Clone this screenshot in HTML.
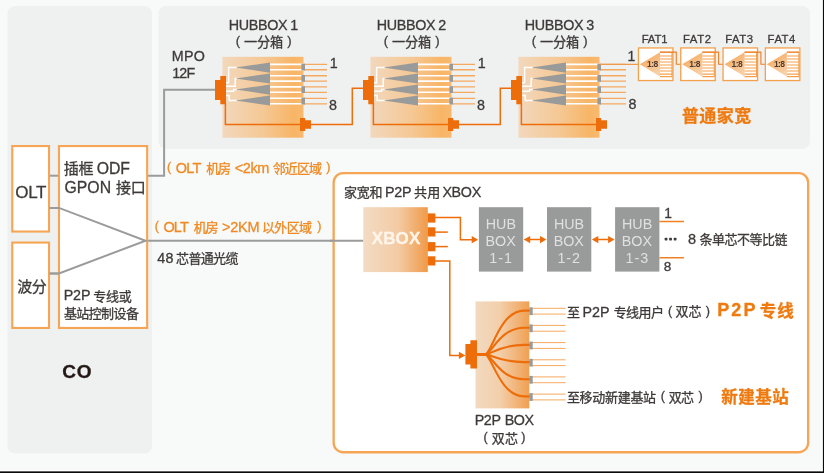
<!DOCTYPE html>
<html lang="zh">
<head>
<meta charset="utf-8">
<title>ODN network diagram</title>
<style>
html,body{margin:0;padding:0;background:#f8f9f9;}
body{width:824px;height:473px;overflow:hidden;font-family:"Liberation Sans",sans-serif;}
svg{display:block;will-change:transform;}
svg text{font-family:"Liberation Sans","Noto Sans CJK SC",sans-serif;}
</style>
</head>
<body>
<svg width="824" height="473" viewBox="0 0 824 473" font-family="'Liberation Sans', 'Noto Sans CJK SC', sans-serif">
<rect width="824" height="473" fill="#f8f9f9"/>
<rect x="7.5" y="6" width="144.5" height="447.5" rx="7.5" fill="#eff1f1"/>
<rect x="158.5" y="6" width="651.5" height="143" rx="7.5" fill="#eff1f1"/>
<g fill="none" stroke="#9b9b9b" stroke-width="2" stroke-linejoin="miter">
<path d="M49.5 175.7H58.5"/>
<path d="M148 175.7H164.1V89.8H215.5"/>
<path d="M49.5 207.9H59L145.6 240.7L59 273.4H49.5"/>
<path d="M145.6 240.7H363"/>
</g>
<rect x="12.25" y="146.05" width="36.80" height="85.50" rx="0" fill="#fff" stroke="#f5a554" stroke-width="2.1"/>
<rect x="12.25" y="242.55" width="36.80" height="85.40" rx="0" fill="#fff" stroke="#f5a554" stroke-width="2.1"/>
<rect x="58.95" y="146.05" width="88.20" height="181.90" rx="0" fill="#fff" stroke="#f5a554" stroke-width="2.1"/>
<g fill="none" stroke="#9b9b9b" stroke-width="2">
<path d="M49.5 207.9H59L145.6 240.7L59 273.4H49.5"/>
</g>
<rect x="333.65" y="173.05" width="474.50" height="279.20" rx="9.5" fill="#fff" stroke="#f5a554" stroke-width="2.3"/>
<path d="M330 240.7H363.4" stroke="#9b9b9b" stroke-width="2"/>
<defs>
<linearGradient id="gh" x1="0" x2="1" y1="0" y2="0">
<stop offset="0" stop-color="#f2d8bd"/><stop offset="0.5" stop-color="#f5c895"/><stop offset="0.88" stop-color="#f8b566"/><stop offset="1" stop-color="#f8b96e"/>
</linearGradient>
<linearGradient id="gx" x1="0" x2="1" y1="0" y2="0">
<stop offset="0" stop-color="#f3dcc5"/><stop offset="0.55" stop-color="#f3caa3"/><stop offset="1" stop-color="#f09a49"/>
</linearGradient>
<linearGradient id="gp" x1="0" x2="1" y1="0" y2="0">
<stop offset="0" stop-color="#f2d9c0"/><stop offset="0.45" stop-color="#f3cfab"/><stop offset="1" stop-color="#f0a052"/>
</linearGradient>
<linearGradient id="gt" x1="0" x2="0.6" y1="0" y2="1">
<stop offset="0" stop-color="#f5a350"/><stop offset="1" stop-color="#f8cfa6"/>
</linearGradient>
</defs>
<g transform="translate(0 0)">
<rect x="222.4" y="56.8" width="81.1" height="80.9" fill="url(#gh)"/>
<path d="M270 64.4H303.5M270 69.7H303.5M270 75.7H303.5M270 81.1H303.5M270 86.9H303.5M270 92.3H303.5M270 98.3H303.5M270 103.8H303.5" stroke="#fff" stroke-width="1.6" fill="none"/>
<path d="M226 82.7H228.6V67.6H237 M226 86.2H235.2V78.5H237 M226 91.3H233.6V89.6H237 M226 95.6H229.2V100.5H237" stroke="#fff" stroke-width="1.5" fill="none"/>
<path d="M235.7 67.60L270 62.50V72.70Z" fill="#999a9a"/>
<path d="M235.7 78.50L270 73.40V83.60Z" fill="#999a9a"/>
<path d="M235.7 89.60L270 84.50V94.70Z" fill="#999a9a"/>
<path d="M235.7 100.50L270 95.40V105.60Z" fill="#999a9a"/>
<path d="M304 64.4H327.0M304 69.7H327.0M304 75.7H327.0M304 81.1H327.0M304 86.9H327.0M304 92.3H327.0M304 98.3H327.0M304 103.8H327.0" stroke="#f5a95f" stroke-width="1.35" fill="none"/>
<rect x="301.4" y="63.70" width="3.6" height="6.70" fill="#999a9a"/>
<rect x="301.4" y="75.00" width="3.6" height="6.80" fill="#999a9a"/>
<rect x="301.4" y="86.20" width="3.6" height="6.80" fill="#999a9a"/>
<rect x="301.4" y="97.60" width="3.6" height="6.90" fill="#999a9a"/>
<path d="M225.4 103V124.5H301" stroke="#ed6d0a" stroke-width="1.5" fill="none"/>
<path d="M310 124.5H352.3V88.3H364" stroke="#ed6d0a" stroke-width="1.5" fill="none"/>
<path d="M215 80H220.3V76.1H226V104.3H220.3V100H215Z" fill="#ed6d0a"/>
<path d="M300 118H305.2V120.2H311V128.8H305.2V131H300Z" fill="#ed6d0a"/>
</g>
<g transform="translate(148 0)">
<rect x="222.4" y="56.8" width="81.1" height="80.9" fill="url(#gh)"/>
<path d="M270 64.4H303.5M270 69.7H303.5M270 75.7H303.5M270 81.1H303.5M270 86.9H303.5M270 92.3H303.5M270 98.3H303.5M270 103.8H303.5" stroke="#fff" stroke-width="1.6" fill="none"/>
<path d="M226 82.7H228.6V67.6H237 M226 86.2H235.2V78.5H237 M226 91.3H233.6V89.6H237 M226 95.6H229.2V100.5H237" stroke="#fff" stroke-width="1.5" fill="none"/>
<path d="M235.7 67.60L270 62.50V72.70Z" fill="#999a9a"/>
<path d="M235.7 78.50L270 73.40V83.60Z" fill="#999a9a"/>
<path d="M235.7 89.60L270 84.50V94.70Z" fill="#999a9a"/>
<path d="M235.7 100.50L270 95.40V105.60Z" fill="#999a9a"/>
<path d="M304 64.4H327.0M304 69.7H327.0M304 75.7H327.0M304 81.1H327.0M304 86.9H327.0M304 92.3H327.0M304 98.3H327.0M304 103.8H327.0" stroke="#f5a95f" stroke-width="1.35" fill="none"/>
<rect x="301.4" y="63.70" width="3.6" height="6.70" fill="#999a9a"/>
<rect x="301.4" y="75.00" width="3.6" height="6.80" fill="#999a9a"/>
<rect x="301.4" y="86.20" width="3.6" height="6.80" fill="#999a9a"/>
<rect x="301.4" y="97.60" width="3.6" height="6.90" fill="#999a9a"/>
<path d="M225.4 103V124.5H301" stroke="#ed6d0a" stroke-width="1.5" fill="none"/>
<path d="M310 124.5H352.3V88.3H364" stroke="#ed6d0a" stroke-width="1.5" fill="none"/>
<path d="M215 80H220.3V76.1H226V104.3H220.3V100H215Z" fill="#ed6d0a"/>
<path d="M300 118H305.2V120.2H311V128.8H305.2V131H300Z" fill="#ed6d0a"/>
</g>
<g transform="translate(296 0)">
<rect x="222.4" y="56.8" width="81.1" height="80.9" fill="url(#gh)"/>
<path d="M270 64.4H303.5M270 69.7H303.5M270 75.7H303.5M270 81.1H303.5M270 86.9H303.5M270 92.3H303.5M270 98.3H303.5M270 103.8H303.5" stroke="#fff" stroke-width="1.6" fill="none"/>
<path d="M226 82.7H228.6V67.6H237 M226 86.2H235.2V78.5H237 M226 91.3H233.6V89.6H237 M226 95.6H229.2V100.5H237" stroke="#fff" stroke-width="1.5" fill="none"/>
<path d="M235.7 67.60L270 62.50V72.70Z" fill="#999a9a"/>
<path d="M235.7 78.50L270 73.40V83.60Z" fill="#999a9a"/>
<path d="M235.7 89.60L270 84.50V94.70Z" fill="#999a9a"/>
<path d="M235.7 100.50L270 95.40V105.60Z" fill="#999a9a"/>
<path d="M304 64.4H330.0M304 69.7H330.0M304 75.7H330.0M304 81.1H330.0M304 86.9H330.0M304 92.3H330.0M304 98.3H330.0M304 103.8H330.0" stroke="#f5a95f" stroke-width="1.35" fill="none"/>
<rect x="301.4" y="63.70" width="3.6" height="6.70" fill="#999a9a"/>
<rect x="301.4" y="75.00" width="3.6" height="6.80" fill="#999a9a"/>
<rect x="301.4" y="86.20" width="3.6" height="6.80" fill="#999a9a"/>
<rect x="301.4" y="97.60" width="3.6" height="6.90" fill="#999a9a"/>
<path d="M225.4 103V124.5H301" stroke="#ed6d0a" stroke-width="1.5" fill="none"/>
<path d="M215 80H220.3V76.1H226V104.3H220.3V100H215Z" fill="#ed6d0a"/>
<path d="M300 118H305.2V120.2H311V128.8H305.2V131H300Z" fill="#ed6d0a"/>
</g>
<path d="M600 64.4H638.5" stroke="#f29a4c" stroke-width="1.2" fill="none"/>
<g transform="translate(0.0 0)">
<rect x="638.45" y="47.95" width="34.5" height="32.6" fill="#fff" stroke="#f5a04b" stroke-width="1.3"/>
<path d="M639.8 64.2L660 52.2V76.4Z" fill="url(#gt)"/>
<path d="M660 52.3H672M660 56H672M660 59H672M660 62H672M660 65H672M660 68H672M660 71H672M660 74.1H672M660 76.6H672 M672 52V77" stroke="#f5a04b" stroke-width="1.1" fill="none"/>
<path d="M660 52.1H676.3V64.3H681" stroke="#ee7d22" stroke-width="1.1" fill="none"/>
<text x="647" y="67.1" font-size="8.5" letter-spacing="-0.55" fill="#4a3a30" font-weight="700">1:8</text>
</g>
<g transform="translate(42.3 0)">
<rect x="638.45" y="47.95" width="34.5" height="32.6" fill="#fff" stroke="#f5a04b" stroke-width="1.3"/>
<path d="M639.8 64.2L660 52.2V76.4Z" fill="url(#gt)"/>
<path d="M660 52.3H672M660 56H672M660 59H672M660 62H672M660 65H672M660 68H672M660 71H672M660 74.1H672M660 76.6H672 M672 52V77" stroke="#f5a04b" stroke-width="1.1" fill="none"/>
<path d="M660 52.1H676.3V64.3H681" stroke="#ee7d22" stroke-width="1.1" fill="none"/>
<text x="647" y="67.1" font-size="8.5" letter-spacing="-0.55" fill="#4a3a30" font-weight="700">1:8</text>
</g>
<g transform="translate(84.6 0)">
<rect x="638.45" y="47.95" width="34.5" height="32.6" fill="#fff" stroke="#f5a04b" stroke-width="1.3"/>
<path d="M639.8 64.2L660 52.2V76.4Z" fill="url(#gt)"/>
<path d="M660 52.3H672M660 56H672M660 59H672M660 62H672M660 65H672M660 68H672M660 71H672M660 74.1H672M660 76.6H672 M672 52V77" stroke="#f5a04b" stroke-width="1.1" fill="none"/>
<path d="M660 52.1H676.3V64.3H681" stroke="#ee7d22" stroke-width="1.1" fill="none"/>
<text x="647" y="67.1" font-size="8.5" letter-spacing="-0.55" fill="#4a3a30" font-weight="700">1:8</text>
</g>
<g transform="translate(126.89999999999999 0)">
<rect x="638.45" y="47.95" width="34.5" height="32.6" fill="#fff" stroke="#f5a04b" stroke-width="1.3"/>
<path d="M639.8 64.2L660 52.2V76.4Z" fill="url(#gt)"/>
<path d="M660 52.3H672M660 56H672M660 59H672M660 62H672M660 65H672M660 68H672M660 71H672M660 74.1H672M660 76.6H672 M672 52V77" stroke="#f5a04b" stroke-width="1.1" fill="none"/>
<path d="M660 52.1H672" stroke="#ee7d22" stroke-width="1.1" fill="none"/>
<text x="647" y="67.1" font-size="8.5" letter-spacing="-0.55" fill="#4a3a30" font-weight="700">1:8</text>
</g>
<rect x="363.3" y="207.2" width="64.5" height="64.9" fill="url(#gx)"/>
<rect x="427.7" y="213.4" width="7.7" height="9.2" fill="#ed6d0a"/>
<rect x="427.7" y="227.3" width="7.7" height="9.2" fill="#ed6d0a"/>
<rect x="427.7" y="242.1" width="7.7" height="9.2" fill="#ed6d0a"/>
<rect x="427.7" y="256.3" width="7.7" height="9.2" fill="#ed6d0a"/>
<g fill="none" stroke="#ed6d0a" stroke-width="1.5">
<path d="M435 217.6H460.4V239.8H473"/>
<path d="M435 232.1H447.8"/>
<path d="M435 246.6H447.8"/>
<path d="M435 261.1H449.8V355.4H460"/>
<path d="M527 239.6H543 M595 239.6H611"/>
</g>
<path d="M478.20 239.70l-6.50 -3.60v7.20z" fill="#ed6d0a"/>
<path d="M465.40 355.40l-6.50 -3.60v7.20z" fill="#ed6d0a"/>
<path d="M523.70 239.60l6.50 -3.60v7.20z" fill="#ed6d0a"/>
<path d="M546.50 239.60l-6.50 -3.60v7.20z" fill="#ed6d0a"/>
<path d="M591.80 239.60l6.50 -3.60v7.20z" fill="#ed6d0a"/>
<path d="M614.60 239.60l-6.50 -3.60v7.20z" fill="#ed6d0a"/>
<rect x="478.90" y="207.2" width="44.3" height="64.4" fill="#999a9a"/>
<rect x="547.00" y="207.2" width="44.3" height="64.4" fill="#999a9a"/>
<rect x="615.10" y="207.2" width="44.3" height="64.4" fill="#999a9a"/>
<path d="M659.4 221.6H683.9 M659.4 257.8H683.9" stroke="#ef8125" stroke-width="1.5" fill="none"/>
<g fill="#3e3a39"><rect x="664.65" y="237.7" width="2.8" height="2.8" rx="0.7"/><rect x="669.15" y="237.7" width="2.8" height="2.8" rx="0.7"/><rect x="673.7" y="237.7" width="2.8" height="2.8" rx="0.7"/></g>
<rect x="475.5" y="301.4" width="53.8" height="107" fill="url(#gp)"/>
<g fill="none" stroke="#ed6d0a" stroke-width="2.1">
<path d="M476 354.4H485.5C492 352.2 500 311.0 524 310.6H530"/>
<path d="M476 354.4H485.5C492 353.1 500 328.0 524 327.7H530"/>
<path d="M476 354.4H485.5C492 353.9 500 345.0 524 344.9H530"/>
<path d="M476 354.4H485.5C492 354.8 500 362.0 524 362.1H530"/>
<path d="M476 354.4H485.5C492 355.6 500 379.0 524 379.2H530"/>
<path d="M476 354.4H485.5C492 356.5 500 396.0 524 396.4H530"/>
</g>
<path d="M532 308.3H565.6M532 314.1H565.6" stroke="#f5a95f" stroke-width="1" fill="none"/>
<rect x="529.3" y="307.3" width="3.4" height="7.8" fill="#999a9a"/>
<path d="M532 325.4H565.6M532 331.2H565.6" stroke="#f5a95f" stroke-width="1" fill="none"/>
<rect x="529.3" y="324.4" width="3.4" height="7.8" fill="#999a9a"/>
<path d="M532 342.6H565.6M532 348.4H565.6" stroke="#f5a95f" stroke-width="1" fill="none"/>
<rect x="529.3" y="341.6" width="3.4" height="7.8" fill="#999a9a"/>
<path d="M532 359.8H565.6M532 365.6H565.6" stroke="#f5a95f" stroke-width="1" fill="none"/>
<rect x="529.3" y="358.8" width="3.4" height="7.8" fill="#999a9a"/>
<path d="M532 376.9H565.6M532 382.7H565.6" stroke="#f5a95f" stroke-width="1" fill="none"/>
<rect x="529.3" y="375.9" width="3.4" height="7.8" fill="#999a9a"/>
<path d="M532 394.1H565.6M532 399.9H565.6" stroke="#f5a95f" stroke-width="1" fill="none"/>
<rect x="529.3" y="393.1" width="3.4" height="7.8" fill="#999a9a"/>
<path d="M465.4 344H470.4V340.2H477V368.6H470.4V364.4H465.4Z" fill="#ed6d0a"/>
<g fill="#3e3a39" stroke="#3e3a39" stroke-width="0.3" stroke-linejoin="round" aria-label="OLT">
<text x="15.19" y="197.70" font-size="17.00" letter-spacing="-0.283" xml:space="preserve">OLT</text>
</g>
<g fill="#3e3a39" stroke="#3e3a39" stroke-width="0.3" stroke-linejoin="round" aria-label="插框 ODF">
<text x="63.85" y="173.70" font-size="15.00" letter-spacing="-0.28" xml:space="preserve">插框</text>
<text x="96.85" y="173.90" font-size="15.80" letter-spacing="-0.135" xml:space="preserve">ODF</text>
</g>
<g fill="#3e3a39" stroke="#3e3a39" stroke-width="0.3" stroke-linejoin="round" aria-label="GPON 接口">
<text x="64.41" y="193.40" font-size="15.80" letter-spacing="0.052" xml:space="preserve">GPON</text>
<text x="115.88" y="193.30" font-size="15.00" letter-spacing="-0.02" xml:space="preserve">接口</text>
</g>
<g fill="#3e3a39" stroke="#3e3a39" stroke-width="0.3" stroke-linejoin="round" aria-label="波分">
<text x="17.33" y="291.90" font-size="15.00" letter-spacing="-0.64" xml:space="preserve">波分</text>
</g>
<g fill="#3e3a39" stroke="#3e3a39" stroke-width="0.3" stroke-linejoin="round" aria-label="P2P 专线或">
<text x="63.63" y="300.20" font-size="14.30" letter-spacing="-0.101" xml:space="preserve">P2P</text>
<text x="93.17" y="300.50" font-size="13.00" letter-spacing="-0.24" xml:space="preserve">专线或</text>
</g>
<g fill="#3e3a39" stroke="#3e3a39" stroke-width="0.3" stroke-linejoin="round" aria-label="基站控制设备">
<text x="63.93" y="317.50" font-size="13.00" letter-spacing="-0.60" xml:space="preserve">基站控制设备</text>
</g>
<g fill="#231815" stroke="#231815" stroke-width="0.3" stroke-linejoin="round" aria-label="CO">
<text x="62.32" y="378.40" font-size="19.00" font-weight="700" letter-spacing="0.777" xml:space="preserve">CO</text>
</g>
<g fill="#3e3a39" stroke="#3e3a39" stroke-width="0.3" stroke-linejoin="round" aria-label="MPO">
<text x="171.83" y="61.10" font-size="14.30" letter-spacing="0.292" xml:space="preserve">MPO</text>
</g>
<g fill="#3e3a39" stroke="#3e3a39" stroke-width="0.3" stroke-linejoin="round" aria-label="12F">
<text x="172.21" y="78.10" font-size="14.30" letter-spacing="-0.840" xml:space="preserve">12F</text>
</g>
<g fill="#3e3a39" stroke="#3e3a39" stroke-width="0.3" stroke-linejoin="round" aria-label="HUBBOX 1">
<text x="228.73" y="29.50" font-size="14.30" letter-spacing="-0.324" xml:space="preserve">HUBBOX</text>
<text x="290.21" y="29.50" font-size="14.30" xml:space="preserve">1</text>
</g>
<g fill="#3e3a39" stroke="#3e3a39" stroke-width="0.3" stroke-linejoin="round" aria-label="( 一分箱 )">
<text x="235.79" y="45.30" font-size="13.00" xml:space="preserve">(</text>
<text x="244.12" y="46.60" font-size="13.20" letter-spacing="-0.21" xml:space="preserve">一分箱</text>
<text x="287.18" y="45.30" font-size="13.00" xml:space="preserve">)</text>
</g>
<g fill="#3e3a39" stroke="#3e3a39" stroke-width="0.3" stroke-linejoin="round" aria-label="1">
<text x="329.81" y="68.00" font-size="14.30" xml:space="preserve">1</text>
</g>
<g fill="#3e3a39" stroke="#3e3a39" stroke-width="0.3" stroke-linejoin="round" aria-label="8">
<text x="329.08" y="109.50" font-size="14.30" xml:space="preserve">8</text>
</g>
<g fill="#3e3a39" stroke="#3e3a39" stroke-width="0.3" stroke-linejoin="round" aria-label="HUBBOX 2">
<text x="376.73" y="29.50" font-size="14.30" letter-spacing="-0.324" xml:space="preserve">HUBBOX</text>
<text x="438.21" y="29.50" font-size="14.30" xml:space="preserve">2</text>
</g>
<g fill="#3e3a39" stroke="#3e3a39" stroke-width="0.3" stroke-linejoin="round" aria-label="( 一分箱 )">
<text x="383.79" y="45.30" font-size="13.00" xml:space="preserve">(</text>
<text x="392.12" y="46.60" font-size="13.20" letter-spacing="-0.21" xml:space="preserve">一分箱</text>
<text x="435.18" y="45.30" font-size="13.00" xml:space="preserve">)</text>
</g>
<g fill="#3e3a39" stroke="#3e3a39" stroke-width="0.3" stroke-linejoin="round" aria-label="1">
<text x="477.81" y="68.00" font-size="14.30" xml:space="preserve">1</text>
</g>
<g fill="#3e3a39" stroke="#3e3a39" stroke-width="0.3" stroke-linejoin="round" aria-label="8">
<text x="477.08" y="109.50" font-size="14.30" xml:space="preserve">8</text>
</g>
<g fill="#3e3a39" stroke="#3e3a39" stroke-width="0.3" stroke-linejoin="round" aria-label="HUBBOX 3">
<text x="524.73" y="29.50" font-size="14.30" letter-spacing="-0.324" xml:space="preserve">HUBBOX</text>
<text x="586.21" y="29.50" font-size="14.30" xml:space="preserve">3</text>
</g>
<g fill="#3e3a39" stroke="#3e3a39" stroke-width="0.3" stroke-linejoin="round" aria-label="( 一分箱 )">
<text x="531.79" y="45.30" font-size="13.00" xml:space="preserve">(</text>
<text x="540.12" y="46.60" font-size="13.20" letter-spacing="-0.21" xml:space="preserve">一分箱</text>
<text x="583.18" y="45.30" font-size="13.00" xml:space="preserve">)</text>
</g>
<g fill="#3e3a39" stroke="#3e3a39" stroke-width="0.3" stroke-linejoin="round" aria-label="1">
<text x="627.43" y="60.90" font-size="14.00" xml:space="preserve">1</text>
</g>
<g fill="#3e3a39" stroke="#3e3a39" stroke-width="0.3" stroke-linejoin="round" aria-label="8">
<text x="628.38" y="109.30" font-size="14.30" xml:space="preserve">8</text>
</g>
<g fill="#3e3a39" stroke="#3e3a39" stroke-width="0.3" stroke-linejoin="round" aria-label="FAT1">
<text x="641.67" y="43.10" font-size="11.30" letter-spacing="-0.116" xml:space="preserve">FAT1</text>
</g>
<g fill="#3e3a39" stroke="#3e3a39" stroke-width="0.3" stroke-linejoin="round" aria-label="FAT2">
<text x="682.97" y="43.10" font-size="11.30" letter-spacing="0.623" xml:space="preserve">FAT2</text>
</g>
<g fill="#3e3a39" stroke="#3e3a39" stroke-width="0.3" stroke-linejoin="round" aria-label="FAT3">
<text x="725.27" y="43.10" font-size="11.30" letter-spacing="0.532" xml:space="preserve">FAT3</text>
</g>
<g fill="#3e3a39" stroke="#3e3a39" stroke-width="0.3" stroke-linejoin="round" aria-label="FAT4">
<text x="767.57" y="43.10" font-size="11.30" letter-spacing="0.544" xml:space="preserve">FAT4</text>
</g>
<g fill="#ee7a10" stroke="#ee7a10" stroke-width="0.3" stroke-linejoin="round" aria-label="普通家宽">
<text x="681.95" y="121.50" font-size="17.00" font-weight="700" letter-spacing="0.43" xml:space="preserve">普通家宽</text>
</g>
<g fill="#f08a22" stroke="#f08a22" stroke-width="0.3" stroke-linejoin="round" aria-label="( OLT 机房 &lt;2km 邻近区域 )">
<text x="167.12" y="171.00" font-size="12.50" xml:space="preserve">(</text>
<text x="175.71" y="173.00" font-size="14.50" letter-spacing="-0.790" xml:space="preserve">OLT</text>
<text x="206.34" y="173.10" font-size="13.00" letter-spacing="-1.39" xml:space="preserve">机房</text>
<text x="234.68" y="173.00" font-size="14.50" letter-spacing="-0.363" xml:space="preserve">&lt;2km</text>
<text x="272.75" y="173.10" font-size="13.00" letter-spacing="-0.91" xml:space="preserve">邻近区域</text>
<text x="326.21" y="171.00" font-size="12.50" xml:space="preserve">)</text>
</g>
<g fill="#f08a22" stroke="#f08a22" stroke-width="0.3" stroke-linejoin="round" aria-label="( OLT 机房 &gt;2KM 以外区域 )">
<text x="154.72" y="230.00" font-size="12.50" xml:space="preserve">(</text>
<text x="163.51" y="232.00" font-size="14.50" letter-spacing="-0.940" xml:space="preserve">OLT</text>
<text x="193.84" y="232.10" font-size="13.00" letter-spacing="-1.29" xml:space="preserve">机房</text>
<text x="221.88" y="232.00" font-size="14.50" letter-spacing="-0.159" xml:space="preserve">&gt;2KM</text>
<text x="261.90" y="232.10" font-size="13.00" letter-spacing="-0.63" xml:space="preserve">以外区域</text>
<text x="317.31" y="230.00" font-size="12.50" xml:space="preserve">)</text>
</g>
<g fill="#3e3a39" stroke="#3e3a39" stroke-width="0.3" stroke-linejoin="round" aria-label="48 芯普通光缆">
<text x="157.17" y="263.00" font-size="14.30" letter-spacing="0.344" xml:space="preserve">48</text>
<text x="176.02" y="263.20" font-size="13.00" letter-spacing="-0.64" xml:space="preserve">芯普通光缆</text>
</g>
<g fill="#3e3a39" stroke="#3e3a39" stroke-width="0.3" stroke-linejoin="round" aria-label="家宽和 P2P 共用 XBOX">
<text x="344.11" y="197.00" font-size="13.00" letter-spacing="-0.27" xml:space="preserve">家宽和</text>
<text x="385.03" y="197.10" font-size="14.30" letter-spacing="-0.251" xml:space="preserve">P2P</text>
<text x="413.88" y="197.00" font-size="13.00" letter-spacing="0.29" xml:space="preserve">共用</text>
<text x="442.38" y="197.10" font-size="14.30" letter-spacing="-0.305" xml:space="preserve">XBOX</text>
</g>
<g fill="#fff5ea" stroke="#fff5ea" stroke-width="0.3" stroke-linejoin="round" aria-label="XBOX">
<text x="371.85" y="244.30" font-size="17.00" font-weight="700" letter-spacing="0.074" xml:space="preserve">XBOX</text>
</g>
<g fill="#e0e0e0" aria-label="HUB BOX 1-1">
<text x="485.79" y="229.00" font-size="14.30" xml:space="preserve">HUB</text>
<text x="485.56" y="245.50" font-size="14.30" xml:space="preserve">BOX</text>
<text x="489.27" y="262.70" font-size="14.30" letter-spacing="1.000" xml:space="preserve">1-1</text>
</g>
<g fill="#e0e0e0" aria-label="HUB BOX 1-2">
<text x="553.89" y="229.00" font-size="14.30" xml:space="preserve">HUB</text>
<text x="553.66" y="245.50" font-size="14.30" xml:space="preserve">BOX</text>
<text x="557.38" y="262.70" font-size="14.30" letter-spacing="1.000" xml:space="preserve">1-2</text>
</g>
<g fill="#e0e0e0" aria-label="HUB BOX 1-3">
<text x="621.99" y="229.00" font-size="14.30" xml:space="preserve">HUB</text>
<text x="621.76" y="245.50" font-size="14.30" xml:space="preserve">BOX</text>
<text x="625.44" y="262.70" font-size="14.30" letter-spacing="1.000" xml:space="preserve">1-3</text>
</g>
<g fill="#3e3a39" stroke="#3e3a39" stroke-width="0.3" stroke-linejoin="round" aria-label="1">
<text x="664.15" y="217.80" font-size="13.80" xml:space="preserve">1</text>
</g>
<g fill="#3e3a39" stroke="#3e3a39" stroke-width="0.3" stroke-linejoin="round" aria-label="8">
<text x="663.71" y="271.00" font-size="13.60" xml:space="preserve">8</text>
</g>
<g fill="#3e3a39" stroke="#3e3a39" stroke-width="0.3" stroke-linejoin="round" aria-label="8 条单芯不等比链">
<text x="687.97" y="243.90" font-size="14.50" xml:space="preserve">8</text>
<text x="699.54" y="244.40" font-size="13.00" letter-spacing="-0.50" xml:space="preserve">条单芯不等比链</text>
</g>
<g fill="#3e3a39" stroke="#3e3a39" stroke-width="0.3" stroke-linejoin="round" aria-label="至 P2P 专线用户 ( 双芯 )">
<text x="567.10" y="316.50" font-size="13.00" xml:space="preserve">至</text>
<text x="582.53" y="316.70" font-size="14.30" letter-spacing="0.049" xml:space="preserve">P2P</text>
<text x="613.67" y="316.50" font-size="13.00" letter-spacing="-0.58" xml:space="preserve">专线用户</text>
<text x="667.92" y="315.00" font-size="12.60" xml:space="preserve">(</text>
<text x="675.54" y="316.40" font-size="13.00" letter-spacing="0.07" xml:space="preserve">双芯</text>
<text x="705.79" y="315.00" font-size="12.60" xml:space="preserve">)</text>
</g>
<g fill="#3e3a39" stroke="#3e3a39" stroke-width="0.3" stroke-linejoin="round" aria-label="至移动新建基站 ( 双芯 )">
<text x="566.90" y="401.70" font-size="13.00" letter-spacing="-0.30" xml:space="preserve">至移动新建基站</text>
<text x="660.82" y="400.20" font-size="12.60" xml:space="preserve">(</text>
<text x="668.75" y="401.70" font-size="13.00" letter-spacing="-0.64" xml:space="preserve">双芯</text>
<text x="698.59" y="400.20" font-size="12.60" xml:space="preserve">)</text>
</g>
<g fill="#ee7a10" stroke="#ee7a10" stroke-width="0.3" stroke-linejoin="round" aria-label="P2P 专线">
<text x="717.20" y="316.40" font-size="18.00" font-weight="700" letter-spacing="2.098" xml:space="preserve">P2P</text>
<text x="759.77" y="316.50" font-size="16.50" font-weight="700" letter-spacing="1.06" xml:space="preserve">专线</text>
</g>
<g fill="#ee7a10" stroke="#ee7a10" stroke-width="0.3" stroke-linejoin="round" aria-label="新建基站">
<text x="721.27" y="402.50" font-size="16.50" font-weight="700" letter-spacing="0.49" xml:space="preserve">新建基站</text>
</g>
<g fill="#3e3a39" stroke="#3e3a39" stroke-width="0.3" stroke-linejoin="round" aria-label="P2P BOX">
<text x="474.63" y="425.30" font-size="14.30" letter-spacing="-0.351" xml:space="preserve">P2P</text>
<text x="504.73" y="425.30" font-size="14.30" letter-spacing="-0.463" xml:space="preserve">BOX</text>
</g>
<g fill="#3e3a39" stroke="#3e3a39" stroke-width="0.3" stroke-linejoin="round" aria-label="( 双芯 )">
<text x="483.42" y="441.10" font-size="12.60" xml:space="preserve">(</text>
<text x="491.75" y="442.60" font-size="13.00" letter-spacing="0.16" xml:space="preserve">双芯</text>
<text x="521.29" y="441.10" font-size="12.60" xml:space="preserve">)</text>
</g>
<rect x="0" y="471.2" width="824" height="1.8" fill="#0a0a0a"/><rect x="822.7" y="0" width="1.3" height="473" fill="#0a0a0a"/><rect x="0" y="470.2" width="822.7" height="1" fill="#fff"/><rect x="821.3" y="0" width="1.4" height="471.2" fill="#fdfdfd"/>
</svg>
</body>
</html>
